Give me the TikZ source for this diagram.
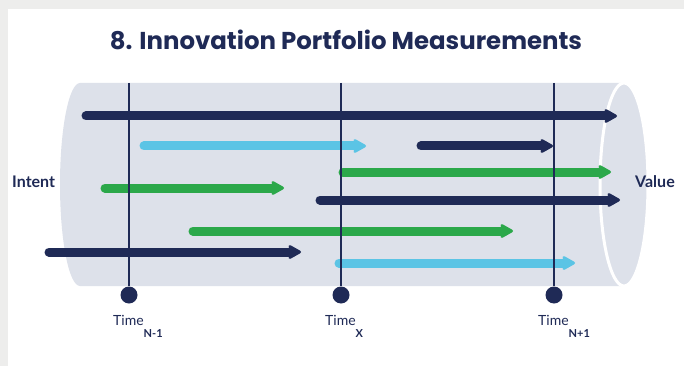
\documentclass[tikz,border=0pt]{standalone}
\usepackage{fontspec}
\setmainfont{Lato}
\newfontfamily\titlefont{Poppins}
\usetikzlibrary{arrows.meta}
\definecolor{navy}{RGB}{31,42,86}
\definecolor{skyblue}{RGB}{91,196,229}
\definecolor{leafgreen}{RGB}{43,168,74}
\definecolor{tubegray}{RGB}{221,225,234}
\definecolor{pagegray}{RGB}{237,237,236}
\tikzset{
  bar/.style={line width=9pt,line cap=round,-{Stealth[length=16pt,width=18pt,inset=5pt,round]}},
  timedot/.style={circle,fill=navy,inner sep=0pt,minimum size=17pt},
  timelabel/.style={anchor=base west,text=navy,font=\fontsize{14}{14}\selectfont,inner sep=0pt},
  sidelabel/.style={anchor=base west,text=navy,font=\bfseries\fontsize{16}{16}\selectfont,inner sep=0pt}
}
\begin{document}
\begin{tikzpicture}[x=1pt,y=-1pt]
    \useasboundingbox (0,0) rectangle (684,366); % whole page
    \fill[pagegray] (0,0) rectangle (684,366);
    \fill[white] (8,9) rectangle (684,366);

    \node[anchor=base,text=navy,font=\titlefont\bfseries\fontsize{24.4}{24.4}\selectfont] (title) at (346,50) {8. Innovation Portfolio Measurements};

    % the tube
    \coordinate (tubeL) at (80,184.5);
    \coordinate (tubeR) at (624,184.5);
    \fill[tubegray] (80,83) -- (624,83) -- (624,286) -- (80,286) arc[start angle=90,end angle=270,x radius=20,y radius=101.5] -- cycle;
    \draw[white,line width=3pt,fill=tubegray] (tubeR) ellipse[x radius=24,y radius=101.5];

    \node[sidelabel] (intent) at (12,187) {Intent};
    \node[sidelabel] (value) at (635,187) {Value};

    % the projects
   	\foreach \c/\y/\xa/\xb in {navy/116/86/617, skyblue/146/144/366, navy/146/421/553,
   	    leafgreen/172/343/611, leafgreen/188/105/284, navy/200/320/620,
   	    leafgreen/231/193/513, navy/252/49/301, skyblue/263/339/575}{
   		\coordinate (from) at (\xa,\y);
   		\coordinate (to) at (\xb,\y);
   		\draw[bar,\c] (from) -- (to);
   	}

    % the times
    \foreach \n/\x/\s in {1/129/N-1, 2/341/X, 3/554/N+1}{
        \node[timedot] (T\n) at (\x,295) {};
        \coordinate (top\n) at (\x,83);
        \draw[navy,line width=2pt] (top\n) -- (T\n);
        \node[timelabel] (L\n) at (\x-16,325) {Time\raisebox{-12pt}{\bfseries\fontsize{11}{11}\selectfont\s}};
    }
\end{tikzpicture}
\end{document}
